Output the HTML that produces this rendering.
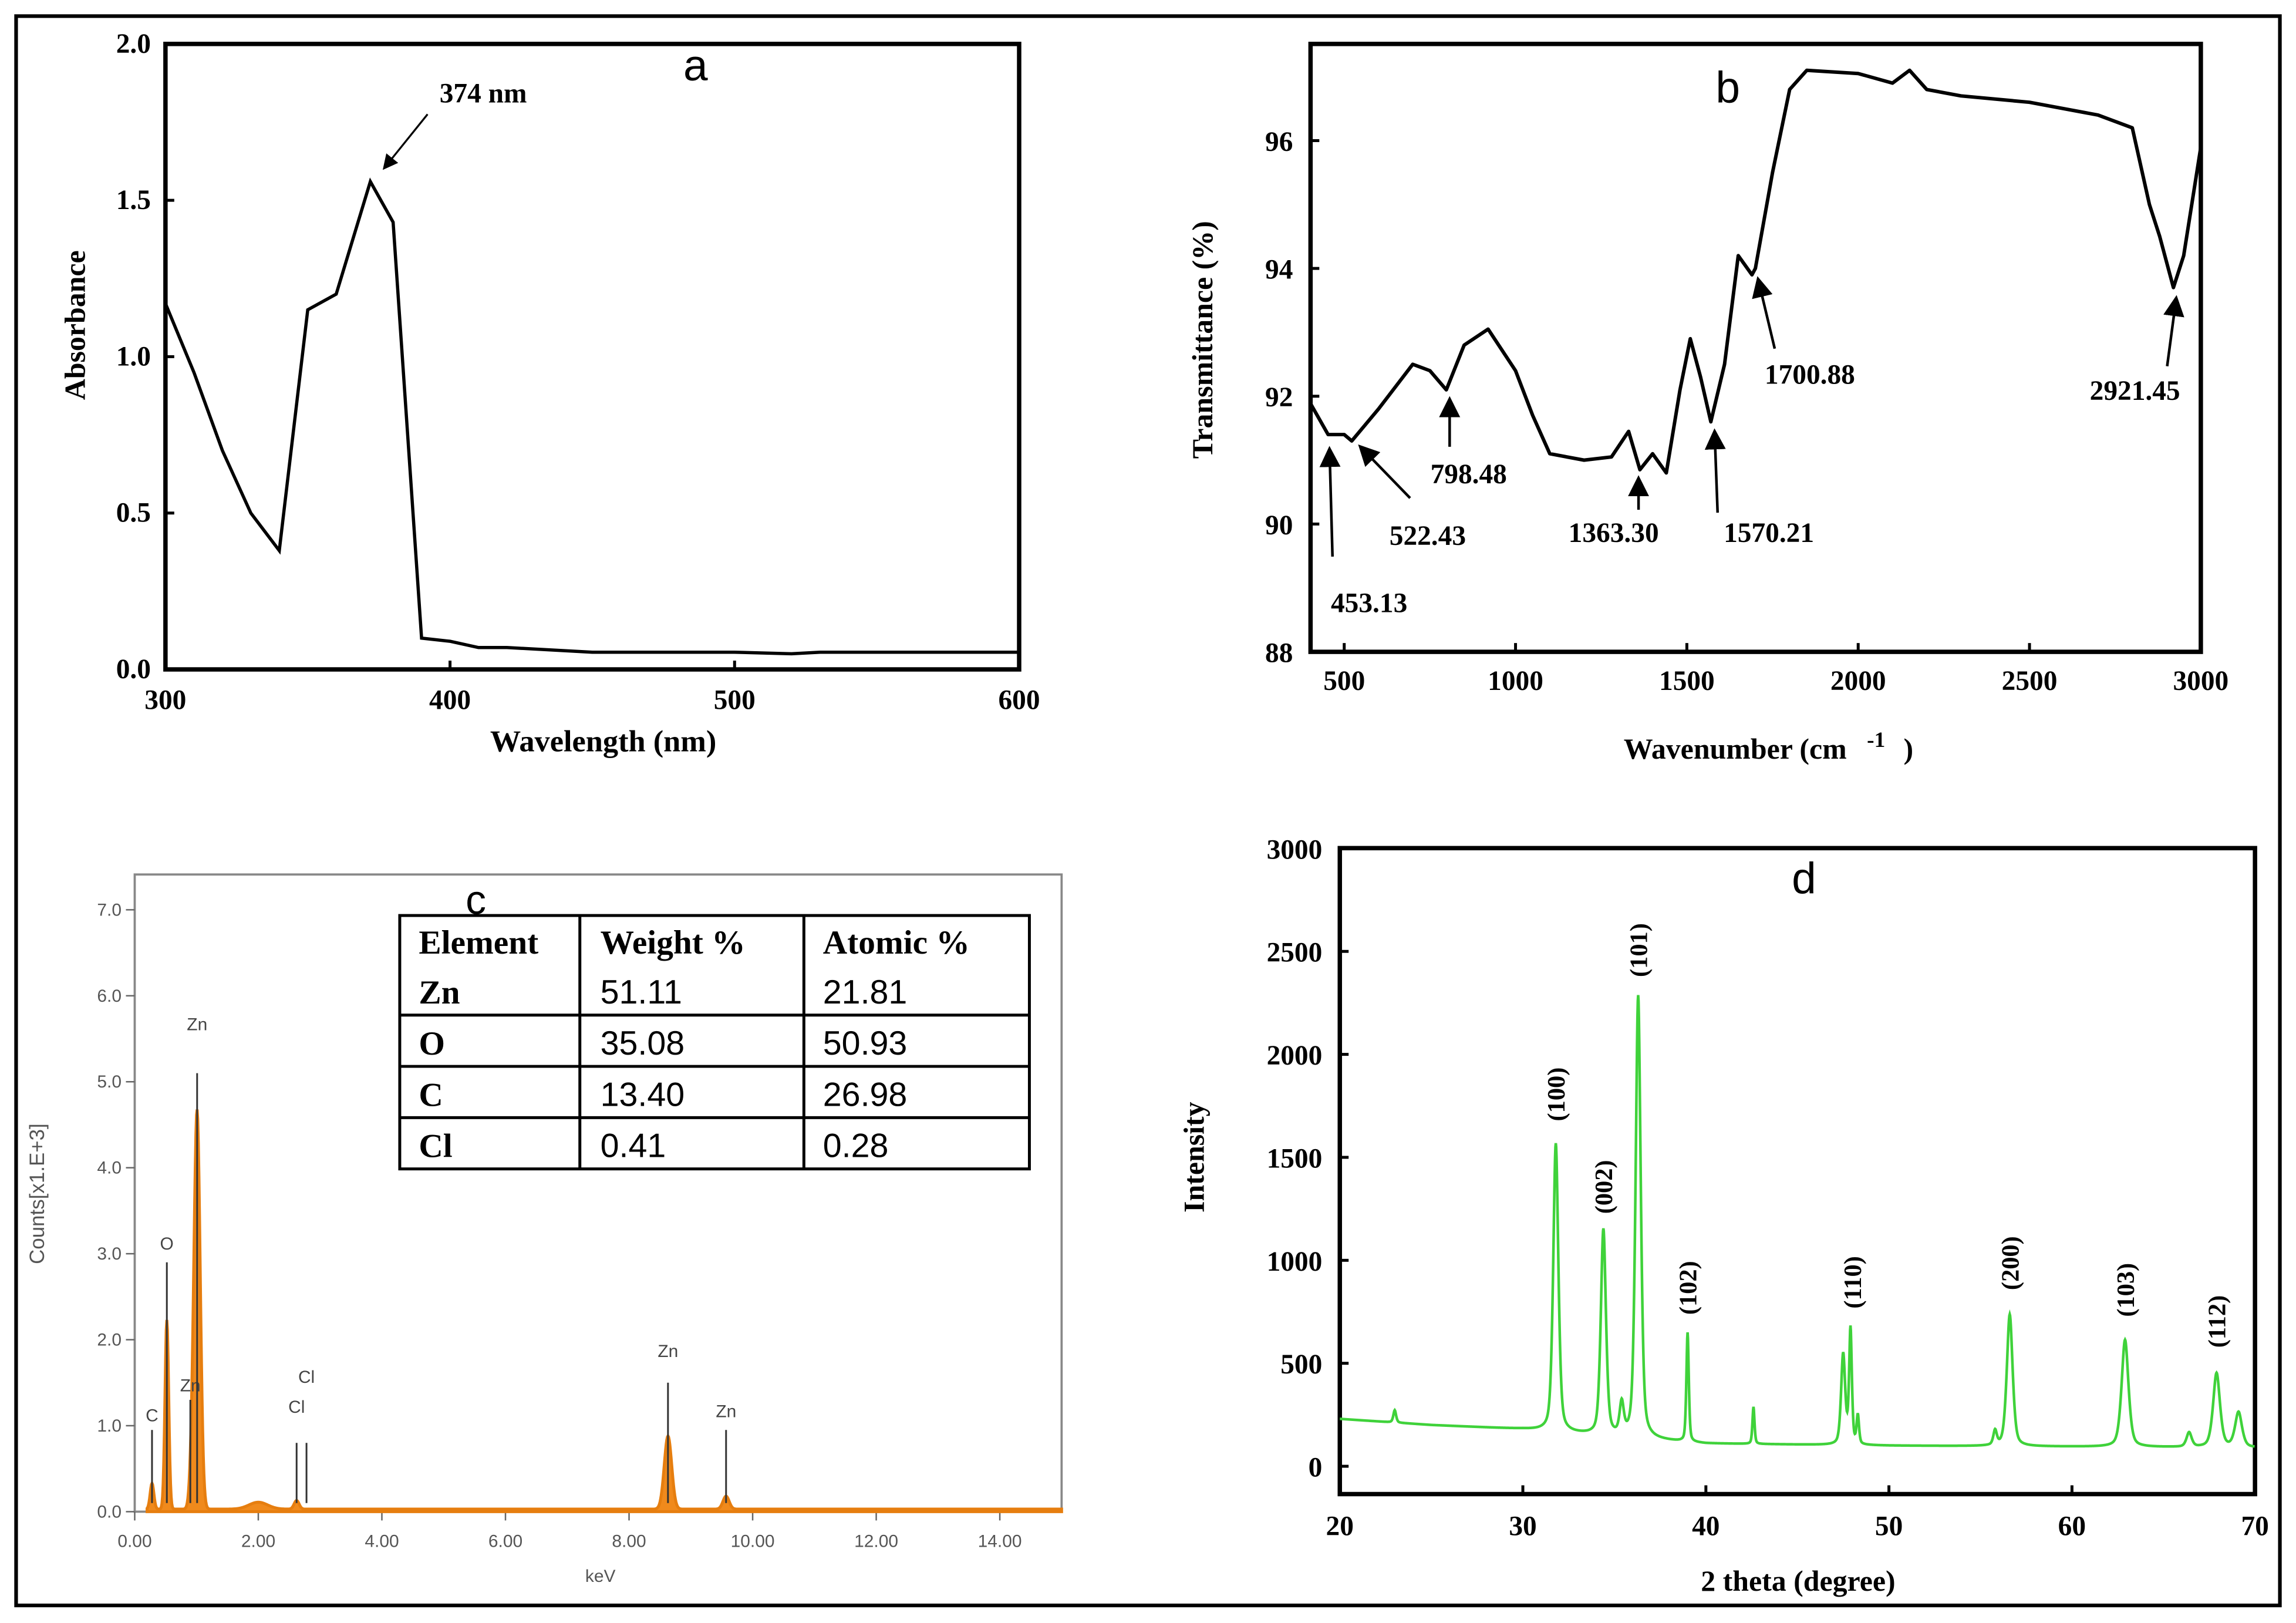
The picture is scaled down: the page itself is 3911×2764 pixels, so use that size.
<!DOCTYPE html>
<html><head><meta charset="utf-8"><style>
html,body{margin:0;padding:0;background:#fff;}
svg{display:block;}
.serif{font-family:"Liberation Serif",serif;font-weight:bold;}
.sans{font-family:"Liberation Sans",sans-serif;}
</style></head><body>
<svg id="fig" width="3911" height="2764" viewBox="0 0 1568 1108" preserveAspectRatio="none" xmlns="http://www.w3.org/2000/svg">
<defs><marker id="ah" markerWidth="8" markerHeight="8" refX="6" refY="4" orient="auto"><path d="M0,0 L8,4 L0,8 z" fill="#000"/></marker></defs>
<rect x="11" y="11" width="1546" height="1085" fill="#fff" stroke="#000" stroke-width="2.5"/>
<g id="pa"></g>
<g id="pb"></g>
<g id="pc"></g>
<g id="pd"></g>
</svg>
<script>
// Panel a data
const aWave=[300,310,320,330,340,350,360,372,380,390,400,410,420,450,500,520,530,600];
const aAbs=[1.17,0.95,0.7,0.5,0.38,1.15,1.2,1.56,1.43,0.1,0.09,0.07,0.07,0.055,0.055,0.05,0.055,0.055];
const aXTicks=[300,400,500,600];
const aYTicks=[0.0,0.5,1.0,1.5,2.0];
// Panel b data
const bWave=[400,453,500,522,600,700,750,798,850,920,1000,1050,1100,1200,1280,1330,1363,1400,1440,1480,1510,1540,1570,1610,1650,1690,1700,1750,1800,1850,2000,2100,2150,2200,2300,2500,2700,2800,2850,2880,2920,2950,3000,3000];
const bTrans=[91.9,91.4,91.4,91.3,91.8,92.5,92.4,92.1,92.8,93.05,92.4,91.7,91.1,91.0,91.05,91.45,90.85,91.1,90.8,92.1,92.9,92.3,91.6,92.5,94.2,93.9,94.0,95.5,96.8,97.1,97.05,96.9,97.1,96.8,96.7,96.6,96.4,96.2,95.0,94.5,93.7,94.2,95.9,97.3];
const bXTicks=[500,1000,1500,2000,2500,3000];
const bYTicks=[88,90,92,94,96];
const bPeaks=["453.13","522.43","798.48","1363.30","1570.21","1700.88","2921.45"];
// Panel c data
const cPeakKeV=[0.28,0.52,0.93,1.01,2.0,2.62,8.63,9.57];
const cPeakCounts=[0.3,2.2,0.35,4.6,0.08,0.1,0.85,0.15];
const cPeakWidth=[0.03,0.03,0.04,0.05,0.15,0.04,0.06,0.05];
const cXTicks=[0,2,4,6,8,10,12,14];
const cYTicks=[0,1,2,3,4,5,6,7];
const cElements=["Zn","O","C","Cl"];
const cWeight=["51.11","35.08","13.40","0.41"];
const cAtomic=["21.81","50.93","26.98","0.28"];
// Panel d data
const dPeakTheta=[23.0,31.8,34.4,35.4,36.3,39.0,42.6,47.5,47.9,48.3,55.8,56.6,62.9,66.4,67.9,69.1];
const dPeakInt=[60,1400,1000,150,2150,530,180,440,560,140,70,640,520,70,360,170];
const dPeakW=[0.08,0.15,0.15,0.12,0.15,0.07,0.06,0.12,0.08,0.07,0.1,0.17,0.2,0.15,0.2,0.2];
const dBaseTheta=[20,25,30,35,40,50,60,70];
const dBaseInt=[230,200,180,140,110,100,95,90];
const dLabels=["(100)","(002)","(101)","(102)","(110)","(200)","(103)","(112)"];
const dLabelTheta=[31.8,34.4,36.3,39.0,48.0,56.6,62.9,67.9];
const dLabelInt=[1590,1140,2290,650,680,770,640,490];
const dXTicks=[20,30,40,50,60,70];
const dYTicks=[0,500,1000,1500,2000,2500,3000];

const NS="http://www.w3.org/2000/svg";
function mk(parent,tag,attrs,text){const e=document.createElementNS(NS,tag);for(const k in attrs)e.setAttribute(k,attrs[k]);if(text!==undefined)e.textContent=text;parent.appendChild(e);return e;}
function pathOf(xs,ys,fx,fy){return xs.map((x,i)=>(i?'L':'M')+fx(x).toFixed(2)+','+fy(ys[i]).toFixed(2)).join(' ');}

// ---------- Panel a ----------
(function(){
const g=document.getElementById('pa');
const X0=113,X1=696,Y0=457,Y1=30;
const fx=v=>X0+(v-300)/300*(X1-X0), fy=v=>Y0-v/2*(Y0-Y1);
let r=mk(g,'rect',{x:X0,y:Y1,width:X1-X0,height:Y0-Y1,fill:'none',stroke:'#000','stroke-width':3});

aXTicks.forEach(t=>{let l=mk(g,'line',{x1:fx(t),x2:fx(t),y1:Y0,y2:Y0-6,stroke:'#000','stroke-width':2});
 let e=mk(g,'text',{x:fx(t),y:Y0+27,'text-anchor':'middle','font-size':19,class:'serif'},String(t));});
aYTicks.forEach(t=>{let l=mk(g,'line',{x1:X0,x2:X0+6,y1:fy(t),y2:fy(t),stroke:'#000','stroke-width':2});
 let e=mk(g,'text',{x:X0-10,y:fy(t)+6,'text-anchor':'end','font-size':19,class:'serif'},t.toFixed(1));});
let p=mk(g,'path',{d:pathOf(aWave,aAbs,fx,fy),fill:'none',stroke:'#000','stroke-width':2.2});

let t=mk(g,'text',{x:412,y:513,'text-anchor':'middle','font-size':21,class:'serif'},'Wavelength (nm)');
t=mk(g,'text',{x:0,y:0,transform:'translate(58,222) rotate(-90)','text-anchor':'middle','font-size':20,class:'serif'},'Absorbance');
t=mk(g,'text',{x:475,y:55,'text-anchor':'middle','font-size':30,class:'sans'},'a');
t=mk(g,'text',{x:330,y:70,'text-anchor':'middle','font-size':19,class:'serif'},'374 nm');
let a=mk(g,'line',{x1:292,y1:78,x2:263,y2:114,stroke:'#000','stroke-width':1.3,'marker-end':'url(#ah)'});
})();

// ---------- Panel b ----------
(function(){
const g=document.getElementById('pb');
const X0=895,X1=1503,Y0=445,Y1=30;
const fx=v=>918+(v-500)/500*117, fy=v=>445-(v-88)/2*87.25;
let r=mk(g,'rect',{x:X0,y:Y1,width:X1-X0,height:Y0-Y1,fill:'none',stroke:'#000','stroke-width':3});

bXTicks.forEach(t=>{let l=mk(g,'line',{x1:fx(t),x2:fx(t),y1:Y0,y2:Y0-6,stroke:'#000','stroke-width':2});
 let e=mk(g,'text',{x:fx(t),y:Y0+26,'text-anchor':'middle','font-size':19,class:'serif'},String(t));});
bYTicks.forEach(t=>{let l=mk(g,'line',{x1:X0,x2:X0+6,y1:fy(t),y2:fy(t),stroke:'#000','stroke-width':2});
 let e=mk(g,'text',{x:X0-12,y:fy(t)+7,'text-anchor':'end','font-size':19,class:'serif'},String(t));});
let p=mk(g,'path',{d:pathOf(bWave,bTrans,fx,fy),fill:'none',stroke:'#000','stroke-width':2.4,'stroke-linejoin':'round'});

let t=mk(g,'text',{x:1185,y:518,'text-anchor':'middle','font-size':20,class:'serif'},'Wavenumber (cm');
t=mk(g,'text',{x:1275,y:510,'font-size':15,class:'serif'},'-1');
t=mk(g,'text',{x:1300,y:518,'font-size':20,class:'serif'},')');
t=mk(g,'text',{x:0,y:0,transform:'translate(828,232) rotate(-90)','text-anchor':'middle','font-size':20,class:'serif'},'Transmittance (%)');
t=mk(g,'text',{x:1180,y:70,'text-anchor':'middle','font-size':30,class:'sans'},'b');
const lab=[[935,418,910,380,908,308],[975,372,963,340,930,306],[1003,330,990,305,990,274],[1102,370,1119,348,1119,328],[1208,370,1173,350,1171,296],[1236,262,1212,238,1201,192],[1458,273,1480,250,1486,205]];
lab.forEach((L,i)=>{let e=mk(g,'text',{x:L[0],y:L[1],'text-anchor':'middle','font-size':19,class:'serif'},bPeaks[i]);
 let a=mk(g,'line',{x1:L[2],y1:L[3],x2:L[4],y2:L[5],stroke:'#000','stroke-width':1.8,'marker-end':'url(#ah)'});});
})();

// ---------- Panel c ----------
(function(){
const g=document.getElementById('pc');
const X0=92,X1=725,Y0=1032,Y1=597;
const fx=v=>92+v/2*84.4, fy=v=>1032-v*58.7;
let r=mk(g,'rect',{x:X0,y:Y1,width:X1-X0,height:Y0-Y1,fill:'none',stroke:'#888','stroke-width':1.5});

cXTicks.forEach(t=>{let l=mk(g,'line',{x1:fx(t),x2:fx(t),y1:Y0,y2:Y0+6,stroke:'#666','stroke-width':1});
 let e=mk(g,'text',{x:fx(t),y:Y0+24,'text-anchor':'middle','font-size':12,fill:'#555',class:'sans'},t.toFixed(2));});
cYTicks.forEach(t=>{let l=mk(g,'line',{x1:X0-6,x2:X0,y1:fy(t),y2:fy(t),stroke:'#666','stroke-width':1});
 let e=mk(g,'text',{x:X0-9,y:fy(t)+4,'text-anchor':'end','font-size':12,fill:'#555',class:'sans'},t.toFixed(1));});
const xs=[],ys=[];
for(let k=0.2;k<=15;k+=0.01){let v=0.03;cPeakKeV.forEach((c,i)=>{v+=cPeakCounts[i]*Math.exp(-0.5*Math.pow((k-c)/cPeakWidth[i],2));});xs.push(k);ys.push(v);}
let d=pathOf(xs,ys,fx,fy)+' L'+fx(15)+','+Y0+' L'+fx(0.2)+','+Y0+' Z';
let p=mk(g,'path',{d:d,fill:'#f08a1c',stroke:'#e67e0f','stroke-width':2});

const ann=[['C',0.28,1.05,0.95],['O',0.52,3.05,2.9],['Zn',0.9,1.4,1.3],['Zn',1.01,5.6,5.1],['Cl',2.62,1.15,0.8],['Cl',2.78,1.5,0.8],['Zn',8.63,1.8,1.5],['Zn',9.57,1.1,0.95]];
ann.forEach(A=>{let e=mk(g,'text',{x:fx(A[1]),y:fy(A[2]),'text-anchor':'middle','font-size':12,fill:'#444',class:'sans'},A[0]);
 let l=mk(g,'line',{x1:fx(A[1]),x2:fx(A[1]),y1:fy(A[3]),y2:fy(0.1),stroke:'#333','stroke-width':1.2});});
let t=mk(g,'text',{x:410,y:1080,'text-anchor':'middle','font-size':12,fill:'#555',class:'sans'},'keV');
t=mk(g,'text',{x:0,y:0,transform:'translate(30,815) rotate(-90)','text-anchor':'middle','font-size':14,fill:'#555',class:'sans'},'Counts[x1.E+3]');
t=mk(g,'text',{x:325,y:624,'text-anchor':'middle','font-size':28,class:'sans'},'c');
// table
const tg=mk(g,'g',{});
mk(tg,'rect',{x:273,y:625,width:430,height:173,fill:'#fff',stroke:'#000','stroke-width':2});
[693,728,763].forEach(y=>mk(tg,'line',{x1:273,x2:703,y1:y,y2:y,stroke:'#000','stroke-width':2}));
[396,549].forEach(x=>mk(tg,'line',{x1:x,x2:x,y1:625,y2:798,stroke:'#000','stroke-width':2}));
const hdr=['Element','Weight %','Atomic %'],cx=[286,410,562];
hdr.forEach((h,i)=>{let e=mk(tg,'text',{x:cx[i],y:651,'font-size':23,class:'serif'},h);});
const ry=[685,720,755,790];
cElements.forEach((el,i)=>{let e=mk(tg,'text',{x:cx[0],y:ry[i],'font-size':23,class:'serif'},el);
 e=mk(tg,'text',{x:cx[1],y:ry[i],'font-size':23,class:'sans'},cWeight[i]);
 e=mk(tg,'text',{x:cx[2],y:ry[i],'font-size':23,class:'sans'},cAtomic[i]);});
})();

// ---------- Panel d ----------
(function(){
const g=document.getElementById('pd');
const X0=915,X1=1540,Y0=1020,Y1=579;
const fx=v=>915+(v-20)/10*125, fy=v=>1001-v/500*70.3;
let r=mk(g,'rect',{x:X0,y:Y1,width:X1-X0,height:Y0-Y1,fill:'none',stroke:'#000','stroke-width':3});

dXTicks.forEach(t=>{let l=mk(g,'line',{x1:fx(t),x2:fx(t),y1:Y0,y2:Y0-6,stroke:'#000','stroke-width':2});
 let e=mk(g,'text',{x:fx(t),y:Y0+28,'text-anchor':'middle','font-size':19,class:'serif'},String(t));});
dYTicks.forEach(t=>{let l=mk(g,'line',{x1:X0,x2:X0+6,y1:fy(t),y2:fy(t),stroke:'#000','stroke-width':2});
 let e=mk(g,'text',{x:X0-12,y:fy(t)+7,'text-anchor':'end','font-size':19,class:'serif'},String(t));});
function base(th){for(let i=0;i<dBaseTheta.length-1;i++){if(th<=dBaseTheta[i+1]){const f=(th-dBaseTheta[i])/(dBaseTheta[i+1]-dBaseTheta[i]);return dBaseInt[i]+f*(dBaseInt[i+1]-dBaseInt[i]);}}return dBaseInt[dBaseInt.length-1];}
const xs=[],ys=[];
for(let th=20;th<=70;th+=0.02){let v=base(th);dPeakTheta.forEach((c,i)=>{const u=(th-c)/dPeakW[i];v+=dPeakInt[i]*(0.5/(1+u*u)+0.5*Math.exp(-0.5*u*u));});xs.push(th);ys.push(v);}
let p=mk(g,'path',{d:pathOf(xs,ys,fx,fy),fill:'none',stroke:'#3fd23a','stroke-width':1.8});

dLabels.forEach((L,i)=>{const x=fx(dLabelTheta[i]),y=fy(dLabelInt[i])-12;let e=mk(g,'text',{x:0,y:0,transform:'translate('+(x+6)+','+y+') rotate(-90)','font-size':17,class:'serif'},L);});
let t=mk(g,'text',{x:1228,y:1086,'text-anchor':'middle','font-size':20,class:'serif'},'2 theta (degree)');
t=mk(g,'text',{x:0,y:0,transform:'translate(822,790) rotate(-90)','text-anchor':'middle','font-size':20,class:'serif'},'Intensity');
t=mk(g,'text',{x:1232,y:610,'text-anchor':'middle','font-size':30,class:'sans'},'d');
})();
</script>
</body></html>
